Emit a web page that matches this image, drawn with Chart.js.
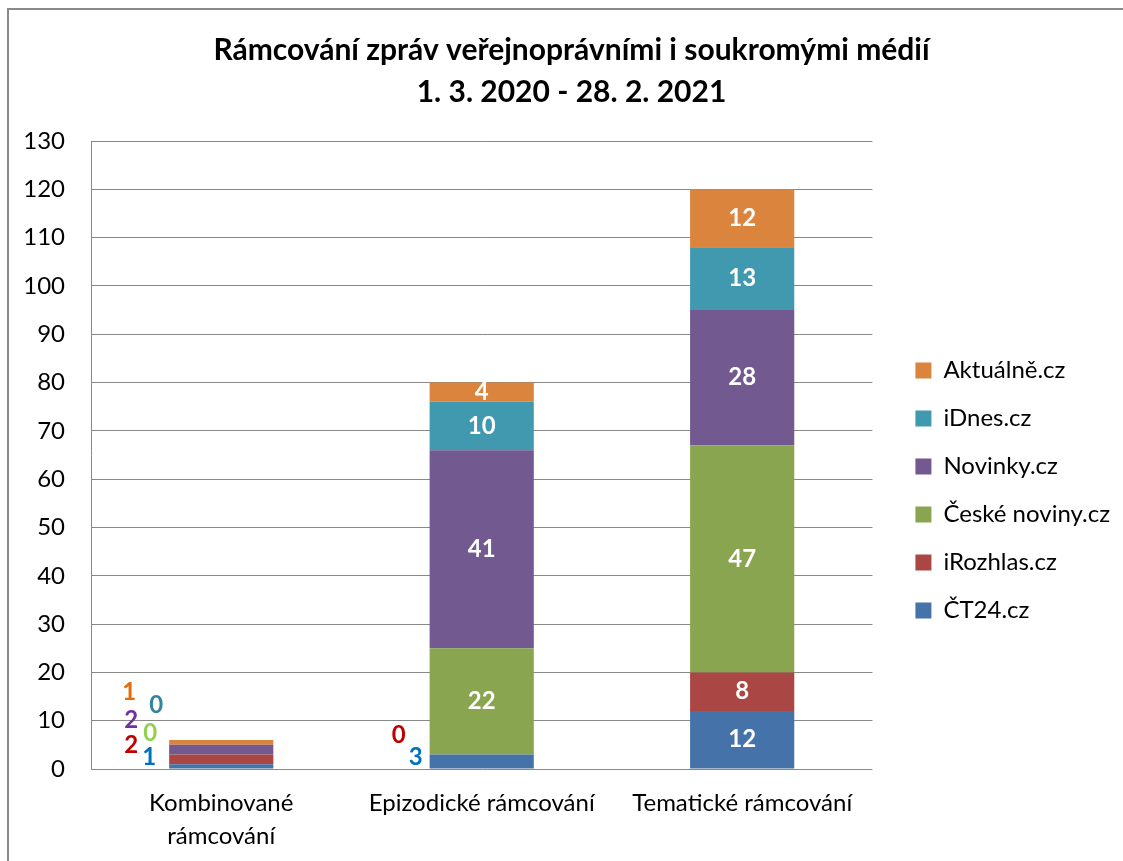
<!DOCTYPE html>
<html>
<head>
<meta charset="utf-8">
<script src="https://cdn.jsdelivr.net/npm/chart.js@4"></script>
<style>
  html, body { margin: 0; padding: 0; background: #fff; }
  #wrap { width: 1123px; height: 861px; position: relative; }
</style>
</head>
<body>
<div id="wrap"><canvas id="chart" width="1123" height="861"></canvas></div>
<script>
// categories and series (stack order bottom -> top)
const categories = [['Kombinované', 'rámcování'], 'Epizodické rámcování', 'Tematické rámcování'];
const seriesNames = ['ČT24.cz', 'iRozhlas.cz', 'České noviny.cz', 'Novinky.cz', 'iDnes.cz', 'Aktuálně.cz'];
const ct24 = [1, 3, 12];
const irozhlas = [2, 0, 8];
const ceskeNoviny = [0, 22, 47];
const novinky = [2, 41, 28];
const idnes = [0, 10, 13];
const aktualne = [1, 4, 12];
const yTicks = [0, 10, 20, 30, 40, 50, 60, 70, 80, 90, 100, 110, 120, 130];

const barColors = ['#4573A9', '#AA4744', '#89A54F', '#72598F', '#4199AF', '#DB843E'];
const outsideColors = ['#0070C0', '#C00000', '#92D050', '#7030A0', '#31859C', '#E46C0A'];

// labels of small segments are drawn beside the bar (offset from bar left edge / zero line)
const outsideLabels = {
  '0,0': [-20, -12], '1,0': [-38, -24], '2,0': [-19, -36],
  '3,0': [-38, -49], '4,0': [-13, -64], '5,0': [-40, -77],
  '0,1': [-14, -12], '1,1': [-31, -34]
};

const FONT = 'Lato, "Open Sans", sans-serif';
const allSeries = [ct24, irozhlas, ceskeNoviny, novinky, idnes, aktualne];

const frame = {
  id: 'frame',
  beforeDraw(chart) {
    const ctx = chart.ctx;
    ctx.save();
    ctx.strokeStyle = '#8a8a8a';
    ctx.lineWidth = 2;
    ctx.beginPath();
    ctx.moveTo(8, chart.height);
    ctx.lineTo(8, 9);
    ctx.lineTo(chart.width, 9);
    ctx.stroke();
    ctx.restore();
  }
};

// nudge legend and title blocks, like the Excel original
const blockShift = {
  id: 'blockShift',
  afterLayout(chart) {
    const lg = chart.legend;
    lg.left += 19; lg.right += 19;
    lg.top += 60; lg.bottom += 60;
    const tb = chart.titleBlock;
    tb.left += 11; tb.right += 11;
  }
};

const valueLabels = {
  id: 'valueLabels',
  afterDatasetsDraw(chart) {
    const ctx = chart.ctx;
    const zero = chart.scales.y.getPixelForValue(0);
    ctx.save();
    ctx.font = 'bold 24px ' + FONT;
    ctx.textAlign = 'center';
    ctx.textBaseline = 'middle';
    chart.data.datasets.forEach((ds, i) => {
      chart.getDatasetMeta(i).data.forEach((bar, j) => {
        const p = bar.getProps(['x', 'y', 'base', 'width'], true);
        const off = outsideLabels[i + ',' + j];
        const v = ds.data[j];
        if (off) {
          ctx.fillStyle = outsideColors[i];
          ctx.fillText(String(v), p.x - p.width / 2 + off[0], zero + off[1]);
        } else if (v > 0) {
          ctx.fillStyle = '#fff';
          ctx.fillText(String(v), p.x, (p.y + p.base) / 2);
        }
      });
    });
    ctx.restore();
  }
};

new Chart(document.getElementById('chart'), {
  type: 'bar',
  data: {
    labels: categories,
    datasets: allSeries.map((d, i) => ({
      label: seriesNames[i],
      data: d,
      backgroundColor: barColors[i],
      borderWidth: 0,
      categoryPercentage: 1,
      barPercentage: 0.4
    }))
  },
  options: {
    responsive: false,
    animation: false,
    layout: { padding: { left: 20, right: 22, top: 0, bottom: 0 } },
    plugins: {
      title: {
        display: true,
        text: ['Rámcování zpráv veřejnoprávními i soukromými médií', '1. 3. 2020 - 28. 2. 2021'],
        color: '#000',
        font: { family: FONT, size: 30, weight: 'bold', lineHeight: 1.4 },
        padding: { top: 29, bottom: 28 }
      },
      legend: {
        position: 'right',
        reverse: true,
        labels: {
          color: '#000',
          boxWidth: 16,
          boxHeight: 16,
          padding: 24,
          font: { family: FONT, size: 24 }
        }
      },
      tooltip: { enabled: false }
    },
    scales: {
      x: {
        stacked: true,
        grid: { display: false },
        border: { display: false },
        ticks: {
          color: '#000',
          padding: 10,
          font: { family: FONT, size: 24, lineHeight: 1.375 }
        },
        afterFit(scale) { scale.height = 92; }
      },
      y: {
        stacked: true,
        min: 0,
        max: 130,
        afterBuildTicks(scale) { scale.ticks = yTicks.map(v => ({ value: v })); },
        grid: { color: '#888', lineWidth: 1, drawTicks: false },
        border: { display: true, color: '#888', width: 1 },
        ticks: {
          color: '#000',
          padding: 26,
          font: { family: FONT, size: 24 }
        },
        afterFit(scale) { scale.width = 71; }
      }
    }
  },
  plugins: [frame, blockShift, valueLabels]
});
</script>
</body>
</html>
